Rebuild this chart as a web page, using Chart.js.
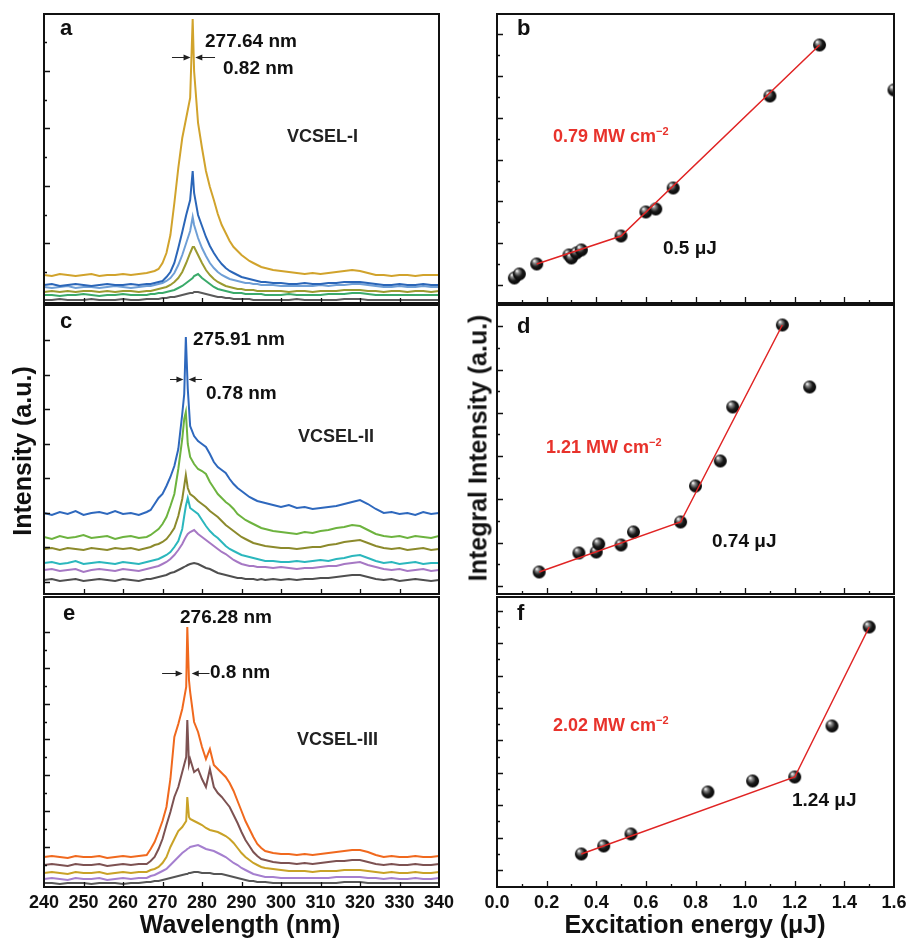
<!DOCTYPE html>
<html>
<head>
<meta charset="utf-8">
<script src="https://cdn.jsdelivr.net/npm/chart.js@4.4.0/dist/chart.umd.min.js"></script>
<style>
  body { margin: 0; background: #fff; width: 907px; height: 938px; position: relative; overflow: hidden;
         font-family: "Liberation Sans", Arial, sans-serif; font-weight: bold; color: #111; }
  canvas { position: absolute; }
  .t { position: absolute; white-space: nowrap; line-height: 1; }
  .red { color: #e8322b; font-size: 18px; }
  .red sup { font-size: 11px; vertical-align: 7px; line-height: 0; }
  .pk { font-size: 19px; }
  .dev { font-size: 18px; color: #222; }
  .let { font-size: 22px; }
  .ttl { font-size: 25px; }
  .rot { transform: translate(-50%, -50%) rotate(-90deg); }
</style>
</head>
<body>
<canvas id="pa"></canvas><canvas id="pc"></canvas><canvas id="pe"></canvas>
<canvas id="pb"></canvas><canvas id="pd"></canvas><canvas id="pf"></canvas>

<div class="t let" style="left:60px;top:17px">a</div>
<div class="t pk" style="left:205px;top:31px">277.64 nm</div>
<div class="t pk" style="left:223px;top:58px">0.82 nm</div>
<div class="t dev" style="left:287px;top:127px">VCSEL-I</div>

<div class="t let" style="left:60px;top:310px">c</div>
<div class="t pk" style="left:193px;top:329px">275.91 nm</div>
<div class="t pk" style="left:206px;top:383px">0.78 nm</div>
<div class="t dev" style="left:298px;top:427px">VCSEL-II</div>

<div class="t let" style="left:63px;top:602px">e</div>
<div class="t pk" style="left:180px;top:607px">276.28 nm</div>
<div class="t pk" style="left:210px;top:662px">0.8 nm</div>
<div class="t dev" style="left:297px;top:730px">VCSEL-III</div>

<div class="t let" style="left:517px;top:17px">b</div>
<div class="t red" style="left:553px;top:127px">0.79 MW cm<sup>−2</sup></div>
<div class="t pk" style="left:663px;top:238px">0.5 μJ</div>

<div class="t let" style="left:517px;top:315px">d</div>
<div class="t red" style="left:546px;top:438px">1.21 MW cm<sup>−2</sup></div>
<div class="t pk" style="left:712px;top:531px">0.74 μJ</div>

<div class="t let" style="left:517px;top:602px">f</div>
<div class="t red" style="left:553px;top:716px">2.02 MW cm<sup>−2</sup></div>
<div class="t pk" style="left:792px;top:790px">1.24 μJ</div>

<div class="t ttl" style="left:240px;top:912px;transform:translateX(-50%)">Wavelength (nm)</div>
<div class="t ttl" style="left:695px;top:912px;transform:translateX(-50%)">Excitation energy (μJ)</div>
<div class="t ttl rot" style="left:22px;top:451px">Intensity (a.u.)</div>
<div class="t ttl rot" style="left:478px;top:448px">Integral Intensity (a.u.)</div>

<script>
// tick labels
const wlTicks = ['240','250','260','270','280','290','300','310','320','330','340'];
const energyTicks = ['0.0','0.2','0.4','0.6','0.8','1.0','1.2','1.4','1.6'];

// ---- panel a, VCSEL-I spectra (wavelength nm / intensity a.u.) ----
const wlA = [240,242,244,246,248,250,252,254,256,258,260,262,264,266,
  267,268,269,270,271,272,273,274,275,276,277,277.64,
  278,279,280,281,282,283,284,285,286,287,288,289,290,291,292,293,294,295,296,
  298,300,302,304,306,308,310,312,314,316,318,320,322,324,326,328,330,332,334,336,338,340];
const aGold = [28,27,29,28,27,28,29,27,28,28,29,28,29,30,
  31,32,34,40,50,68,100,135,165,185,205,284,
  232,180,155,132,116,103,89,78,70,62,56,52,48,45,42,40,38,36,35,
  33,32,31,30,29,30,29,30,31,32,33,32,30,28,28,27,28,28,27,28,28,28];
const aBlue = [18,19,17,18,19,18,17,18,19,18,18,19,18,19,
  19,20,21,22,26,31,40,55,71,88,103,132,
  110,88,77,66,57,50,44,39,35,32,30,28,26,25,24,23,22,21,21,
  20,20,19,19,20,19,19,20,20,21,21,21,20,19,18,18,19,18,18,19,18,18];
const aLightBlue = [16,15,16,17,15,16,16,15,16,17,16,15,16,17,
  17,18,19,20,22,25,30,38,48,60,72,86,
  78,65,55,47,40,35,31,28,26,24,23,22,21,20,20,19,19,18,18,
  18,17,17,17,17,17,18,17,18,18,19,19,18,17,16,16,17,16,16,17,16,16];
const aOlive = [11,12,11,12,11,12,12,11,12,11,12,12,11,12,
  12,13,14,15,16,18,21,25,31,40,50,56,
  56,48,40,33,28,24,21,19,17,16,15,14,14,13,13,13,12,12,12,
  12,12,11,12,12,11,12,12,12,13,13,13,12,12,11,12,12,11,12,12,11,12];
const aGreen = [8,8,7,8,8,9,8,7,8,8,9,8,8,8,
  9,9,10,10,11,12,13,15,17,20,23,25,
  27,29,25,22,19,16,14,13,12,11,10,10,10,9,9,9,9,9,8,
  8,8,9,8,8,8,8,9,9,9,10,10,9,8,8,8,8,8,8,8,8,8];
const aGray = [3,3,4,3,3,3,4,3,3,3,4,3,3,4,
  4,4,4,5,5,6,6,7,8,9,10,10,
  11,11,10,9,8,7,6,6,5,5,4,4,4,4,4,3,3,3,3,
  3,3,3,4,3,3,3,3,3,4,4,4,3,3,3,3,3,3,3,3,3,3];

// ---- panel c, VCSEL-II spectra ----
const wlC = [240,242,244,246,248,250,252,254,256,258,260,262,264,266,
  267,268,269,270,271,272,273,274,275,275.5,275.91,276.4,
  277,278,279,280,281,282,283,284,285,286,287,288,289,290,291,292,293,294,295,296,
  298,300,302,304,306,308,310,312,314,316,318,320,322,324,326,328,330,332,334,336,338,340];
const cBlue = [81,79,82,80,83,79,81,82,80,83,80,81,79,82,
  84,90,96,100,108,117,128,145,180,200,257,205,
  168,158,153,150,147,140,132,127,124,121,115,110,106,103,100,97,95,93,92,91,
  89,87,89,86,87,85,86,87,88,90,92,94,90,85,81,82,80,81,79,82,80,81];
const cGreen = [57,55,58,56,57,59,56,57,58,55,57,58,56,57,
  59,62,65,70,77,88,100,125,155,175,182,150,
  137,130,125,123,120,112,106,100,96,92,89,85,80,77,74,72,70,68,66,65,
  63,62,61,60,62,61,63,64,66,67,69,68,64,60,58,57,58,56,58,57,56,58];
const cOlive = [45,46,44,46,45,44,46,45,44,46,45,46,44,46,
  47,49,50,52,55,60,66,78,95,108,119,106,
  100,97,93,90,87,83,80,77,73,69,66,63,60,57,55,53,51,50,49,48,
  47,46,46,45,46,47,47,49,50,52,53,54,51,48,46,45,46,44,45,46,44,45];
const cCyan = [31,32,30,31,33,30,31,32,31,30,32,31,30,32,
  33,34,35,37,39,42,47,53,65,78,88,96,
  86,83,80,74,68,63,59,56,52,48,45,43,41,39,38,37,36,35,34,33,
  33,32,32,33,32,33,34,33,35,36,38,39,36,33,31,32,30,31,32,30,31,31];
const cPurple = [24,25,23,24,25,22,24,25,24,23,25,24,23,25,
  26,27,28,30,32,35,39,44,50,54,57,60,
  62,64,60,57,54,51,48,45,42,40,37,34,32,30,29,28,28,27,27,27,
  26,27,26,25,26,26,27,28,28,30,31,32,29,27,25,24,25,23,24,25,23,24];
const cGray = [14,15,13,14,15,13,14,15,14,13,15,14,13,15,
  15,16,17,18,19,21,22,24,26,27,28,29,
  30,31,30,28,26,25,23,21,20,19,18,17,16,16,15,15,15,14,15,14,
  15,14,15,14,15,15,16,16,17,18,19,19,17,15,14,15,13,14,15,14,13,14];

// ---- panel e, VCSEL-III spectra ----
const wlE = [240,242,244,246,248,250,252,254,256,258,260,262,264,266,
  267,268,269,270,271,272,273,274,275,276,276.28,276.7,
  277,278,279,280,281,282,283,284,285,286,287,288,289,290,291,292,293,294,295,296,
  298,300,302,304,306,308,310,312,314,316,318,320,322,324,326,328,330,332,334,336,338,340];
const eOrange = [30,31,30,29,31,30,30,31,29,30,31,30,31,32,
  38,45,55,66,80,108,150,163,178,200,260,207,
  195,165,155,140,128,138,122,118,114,110,104,96,86,76,66,58,50,43,39,36,
  34,33,33,32,33,32,33,34,35,36,37,37,35,32,30,31,30,30,31,30,30,31];
const eBrown = [22,23,22,21,23,22,22,23,21,22,23,22,23,23,
  26,30,38,48,62,75,90,100,115,130,167,123,
  128,115,118,108,100,118,100,94,90,85,80,72,64,55,47,41,35,31,28,27,
  25,24,24,23,24,23,24,25,26,26,27,27,25,23,22,23,22,22,23,22,22,23];
const eGold = [14,15,14,13,15,14,14,15,13,14,15,14,15,15,
  17,18,20,24,30,40,48,56,60,66,90,70,
  68,66,64,62,59,57,56,55,53,51,48,44,39,34,30,27,24,22,20,19,
  18,17,16,16,16,15,16,16,16,17,17,17,16,15,14,15,14,14,15,14,14,15];
const ePurple = [8,9,8,7,9,8,8,9,7,8,9,8,9,9,
  11,12,14,16,18,22,26,30,34,37,38,39,
  40,41,42,40,38,37,36,34,32,30,27,24,22,19,17,15,13,12,11,10,
  10,9,9,9,9,9,9,9,10,10,10,10,9,9,8,9,8,8,9,8,8,9];
const eGray = [4,4,3,4,4,4,3,4,4,4,3,4,4,5,
  5,6,6,7,8,9,10,11,12,13,13,14,
  14,15,15,14,14,14,13,13,13,12,11,10,9,8,7,6,6,5,5,5,
  4,4,4,4,4,4,4,4,4,5,5,5,4,4,4,4,4,4,4,4,4,4];

// ---- integral intensity vs excitation energy (uJ / a.u.) ----
const energyB = [0.07, 0.09, 0.16, 0.29, 0.30, 0.32, 0.34, 0.50, 0.60, 0.64, 0.71, 1.10, 1.30, 1.60];
const intB    = [25, 29, 39, 48, 45, 50, 53, 67, 91, 94, 115, 207, 258, 213];
const fitBx = [0.16, 0.50, 1.30];
const fitBy = [39, 67, 258];

const energyD = [0.17, 0.33, 0.40, 0.41, 0.50, 0.55, 0.74, 0.80, 0.90, 0.95, 1.15, 1.26];
const intD    = [22, 41, 42, 50, 49, 62, 72, 108, 133, 187, 269, 207];
const fitDx = [0.17, 0.74, 1.15];
const fitDy = [22, 72, 269];

const energyF = [0.34, 0.43, 0.54, 0.85, 1.03, 1.20, 1.35, 1.50];
const intF    = [33, 41, 53, 95, 106, 110, 161, 260];
const fitFx = [0.34, 1.20, 1.50];
const fitFy = [33, 110, 260];

// layout of the six plot boxes (page pixels)
const rows = [{top: 14, bottom: 303}, {top: 305, bottom: 594}, {top: 597, bottom: 887}];
const colL = {left: 44, right: 439}, colR = {left: 497, right: 894};

const pts = (xs, ys) => xs.map((v, i) => ({x: v, y: ys[i]}));

function spectra(wl, list) {
  return list.map(([vals, color]) => ({
    data: pts(wl, vals), borderColor: color, borderWidth: 2,
    pointRadius: 0, tension: 0, fill: false
  }));
}

// black shiny ball marker
function ball(r) {
  const c = document.createElement('canvas');
  c.width = c.height = 2 * r + 2;
  const g = c.getContext('2d');
  const grd = g.createRadialGradient(r * 0.75, r * 0.65, 0.3, r + 1, r + 1, r + 1);
  grd.addColorStop(0, '#ffffff');
  grd.addColorStop(0.22, '#8a8a8a');
  grd.addColorStop(0.55, '#1a1a1a');
  grd.addColorStop(1, '#000');
  g.fillStyle = grd;
  g.beginPath(); g.arc(r + 1, r + 1, r, 0, Math.PI * 2); g.fill();
  return c;
}
const ballImg = ball(6.5);

function fluence(ex, ey, fx, fy) {
  return [
    {data: pts(fx, fy), borderColor: '#e02424', borderWidth: 1.5, pointRadius: 0, tension: 0},
    {data: pts(ex, ey), showLine: false, pointStyle: ballImg, pointRadius: 7}
  ];
}

function yTicks(start, step, count, phase) {
  const out = [];
  for (let k = 0; k < count; k++)
    out.push({v: start + k * step, len: (phase < 0 || k % 2 === phase) ? 6 : 3});
  return out;
}
const xTicksL = [250, 260, 270, 280, 290, 300, 310, 320, 330].map(v => ({v, len: 5}));
const xTicksR = [];
for (let k = 1; k < 16; k++) xTicksR.push({v: k / 10, len: k % 2 === 0 ? 6 : 3});

const frame = {
  id: 'frame',
  afterDatasetsDraw(chart, args, o) {
    const {ctx, chartArea: a} = chart;
    const x = chart.scales.x, y = chart.scales.y;
    ctx.save();
    ctx.strokeStyle = '#111';
    ctx.lineWidth = 1.3;
    ctx.beginPath();
    o.xTicks.forEach(t => {
      const px = Math.round(x.getPixelForValue(t.v)) + 0.5;
      ctx.moveTo(px, a.bottom); ctx.lineTo(px, a.bottom - t.len);
    });
    o.yTicks.forEach(t => {
      const py = Math.round(y.getPixelForValue(t.v)) + 0.5;
      ctx.moveTo(a.left, py); ctx.lineTo(a.left + t.len, py);
    });
    ctx.stroke();
    ctx.lineWidth = 2;
    ctx.strokeRect(a.left, a.top, a.right - a.left, a.bottom - a.top);

    (o.arrows || []).forEach(ar => {
      const py = Math.round(y.getPixelForValue(ar.y)) + 0.5;
      const x1 = x.getPixelForValue(ar.from), x2 = x.getPixelForValue(ar.to);
      const d = Math.sign(x2 - x1);
      ctx.strokeStyle = ctx.fillStyle = '#222';
      ctx.lineWidth = 1;
      ctx.beginPath(); ctx.moveTo(x1, py); ctx.lineTo(x2 - d * 5, py); ctx.stroke();
      ctx.beginPath(); ctx.moveTo(x2, py); ctx.lineTo(x2 - d * 7, py - 3); ctx.lineTo(x2 - d * 7, py + 3);
      ctx.closePath(); ctx.fill();
    });

    if (o.labels) {
      ctx.fillStyle = '#111';
      ctx.font = 'bold 18px "Liberation Sans", Arial, sans-serif';
      ctx.textAlign = 'center';
      ctx.textBaseline = 'alphabetic';
      o.labels.forEach(s => ctx.fillText(s, x.getPixelForValue(parseFloat(s)), a.bottom + 21));
    }
    ctx.restore();
  }
};

function panel(id, col, row, xMin, xMax, datasets, frameOpts, last) {
  const side = last ? 22 : 8;
  const pad = {left: side, top: 8, right: side, bottom: last ? 30 : 8};
  const cv = document.getElementById(id);
  cv.width = col.right - col.left + pad.left + pad.right;
  cv.height = row.bottom - row.top + pad.top + pad.bottom;
  cv.style.left = (col.left - pad.left) + 'px';
  cv.style.top = (row.top - pad.top) + 'px';
  new Chart(cv, {
    type: 'line',
    data: {datasets},
    options: {
      responsive: false, animation: false, events: [],
      layout: {padding: pad},
      plugins: {legend: {display: false}, tooltip: {enabled: false}, frame: frameOpts},
      scales: {
        x: {type: 'linear', display: false, min: xMin, max: xMax},
        y: {type: 'linear', display: false, min: 0, max: row.bottom - row.top}
      }
    },
    plugins: [frame]
  });
}

panel('pa', colL, rows[0], 240, 340, spectra(wlA, [
  [aGold, '#d1a32c'], [aBlue, '#2b66b8'], [aLightBlue, '#6f9fd6'],
  [aOlive, '#9b9a30'], [aGreen, '#3aaa6a'], [aGray, '#5a5a5a']]),
  {xTicks: xTicksL, yTicks: yTicks(31, 28.75, 9, 1),
   arrows: [{y: 246, from: 272.4, to: 277.1}, {y: 246, from: 283.3, to: 278.3}]});

panel('pc', colL, rows[1], 240, 340, spectra(wlC, [
  [cBlue, '#2e68bd'], [cGreen, '#6db33f'], [cOlive, '#8c8a2c'],
  [cCyan, '#2bb7bd'], [cPurple, '#a678c4'], [cGray, '#4f4f4f']]),
  {xTicks: xTicksL, yTicks: yTicks(12.5, 34.5, 8, -1),
   arrows: [{y: 215, from: 271.9, to: 275.3}, {y: 215, from: 280.0, to: 276.6}]});

panel('pe', colL, rows[2], 240, 340, spectra(wlE, [
  [eOrange, '#f0691e'], [eBrown, '#7d5252'], [eGold, '#c9a227'],
  [ePurple, '#a57fcf'], [eGray, '#555555']]),
  {xTicks: xTicksL, yTicks: yTicks(22.3, 17.9, 14, 1), labels: wlTicks,
   arrows: [{y: 214, from: 269.9, to: 275.1}, {y: 214, from: 281.9, to: 277.4}]}, true);

panel('pb', colR, rows[0], 0, 1.6, fluence(energyB, intB, fitBx, fitBy),
  {xTicks: xTicksR, yTicks: yTicks(18, 20.9, 13, 0)});
panel('pd', colR, rows[1], 0, 1.6, fluence(energyD, intD, fitDx, fitDy),
  {xTicks: xTicksR, yTicks: yTicks(8.3, 21.6, 13, 0)});
panel('pf', colR, rows[2], 0, 1.6, fluence(energyF, intF, fitFx, fitFy),
  {xTicks: xTicksR, yTicks: yTicks(17, 16.2, 17, 0), labels: energyTicks}, true);
</script>
</body>
</html>
